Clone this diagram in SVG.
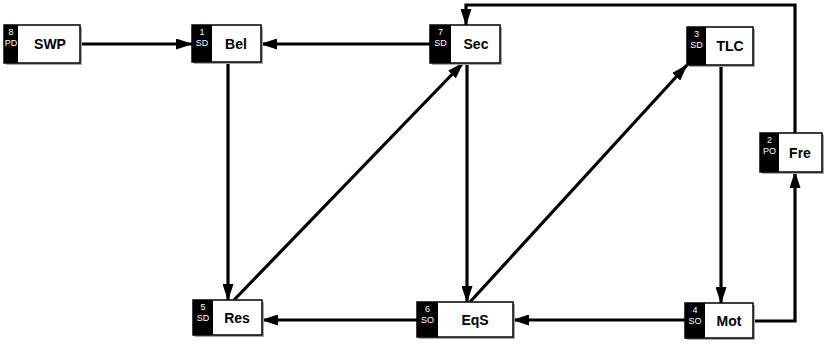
<svg xmlns="http://www.w3.org/2000/svg" width="830" height="345" viewBox="0 0 830 345">
<defs>
<style>
.sh{fill:#a8a8a8}
.band{fill:#000}
.body{fill:#fff;stroke:#000;stroke-width:1.5}
.num{font-family:"Liberation Sans",Arial,sans-serif;font-size:9px;fill:#fff;text-anchor:middle}
.lbl{font-family:"Liberation Sans",Arial,sans-serif;font-size:14px;font-weight:bold;fill:#000;text-anchor:middle}
.c{fill:none;stroke:#000;stroke-width:3.2;stroke-linejoin:miter}
</style>
<marker id="ah" markerUnits="userSpaceOnUse" markerWidth="17" markerHeight="11" refX="16" refY="5.5" orient="auto">
<path d="M0,0 L17,5.5 L0,11 z" fill="#000"/>
</marker>
</defs>
<rect width="830" height="345" fill="#fff"/>

<g id="connectors">
<path class="c" d="M80,44 L192,44" marker-end="url(#ah)"/>
<path class="c" d="M430,44 L261,44" marker-end="url(#ah)"/>
<path class="c" d="M228,62 L228,300" marker-end="url(#ah)"/>
<path class="c" d="M234,300 L463,63" marker-end="url(#ah)"/>
<path class="c" d="M467,63 L467,302" marker-end="url(#ah)"/>
<path class="c" d="M470,302 L687,65" marker-end="url(#ah)"/>
<path class="c" d="M721,65 L721,303" marker-end="url(#ah)"/>
<path class="c" d="M685,320 L513,320" marker-end="url(#ah)"/>
<path class="c" d="M417,320 L262,320" marker-end="url(#ah)"/>
<path class="c" d="M753,321 L795,321 L795,172" marker-end="url(#ah)"/>
<path class="c" d="M795,133 L795,5 L466,5 L466,25" marker-end="url(#ah)"/>
</g>

<g id="SWP">
<rect class="sh" x="6" y="27" width="76" height="38"/>
<rect class="body" x="4" y="25" width="76" height="38"/>
<rect class="band" x="4" y="25" width="14" height="38"/>
<text class="num" x="11" y="35">8</text>
<text class="num" x="11" y="46">PD</text>
<text class="lbl" x="50" y="49">SWP</text>
</g>

<g id="Bel">
<rect class="sh" x="194" y="27" width="69" height="37"/>
<rect class="body" x="192" y="25" width="69" height="37"/>
<rect class="band" x="192" y="25" width="20" height="37"/>
<text class="num" x="202" y="35">1</text>
<text class="num" x="202" y="46">SD</text>
<text class="lbl" x="236" y="49">Bel</text>
</g>

<g id="Sec">
<rect class="sh" x="432" y="27" width="70" height="38"/>
<rect class="body" x="430" y="25" width="70" height="38"/>
<rect class="band" x="430" y="25" width="21" height="38"/>
<text class="num" x="440.5" y="35">7</text>
<text class="num" x="440.5" y="46">SD</text>
<text class="lbl" x="476" y="49">Sec</text>
</g>

<g id="TLC">
<rect class="sh" x="689" y="29" width="66" height="38"/>
<rect class="body" x="687" y="27" width="66" height="38"/>
<rect class="band" x="687" y="27" width="19" height="38"/>
<text class="num" x="696.5" y="37">3</text>
<text class="num" x="696.5" y="48">SD</text>
<text class="lbl" x="730" y="51">TLC</text>
</g>

<g id="Fre">
<rect class="sh" x="762" y="135" width="62" height="39"/>
<rect class="body" x="760" y="133" width="62" height="39"/>
<rect class="band" x="760" y="133" width="19" height="39"/>
<text class="num" x="769.5" y="143">2</text>
<text class="num" x="769.5" y="154">PO</text>
<text class="lbl" x="800" y="158">Fre</text>
</g>

<g id="Res">
<rect class="sh" x="195" y="302" width="69" height="35"/>
<rect class="body" x="193" y="300" width="69" height="35"/>
<rect class="band" x="193" y="300" width="20" height="35"/>
<text class="num" x="203" y="310">5</text>
<text class="num" x="203" y="321">SD</text>
<text class="lbl" x="237" y="323">Res</text>
</g>

<g id="EqS">
<rect class="sh" x="419" y="304" width="96" height="35"/>
<rect class="body" x="417" y="302" width="96" height="35"/>
<rect class="band" x="417" y="302" width="21" height="35"/>
<text class="num" x="427.5" y="312">6</text>
<text class="num" x="427.5" y="323">SO</text>
<text class="lbl" x="475" y="325">EqS</text>
</g>

<g id="Mot">
<rect class="sh" x="687" y="305" width="68" height="35"/>
<rect class="body" x="685" y="303" width="68" height="35"/>
<rect class="band" x="685" y="303" width="20" height="35"/>
<text class="num" x="695" y="313">4</text>
<text class="num" x="695" y="324">SO</text>
<text class="lbl" x="729" y="326">Mot</text>
</g>
</svg>
